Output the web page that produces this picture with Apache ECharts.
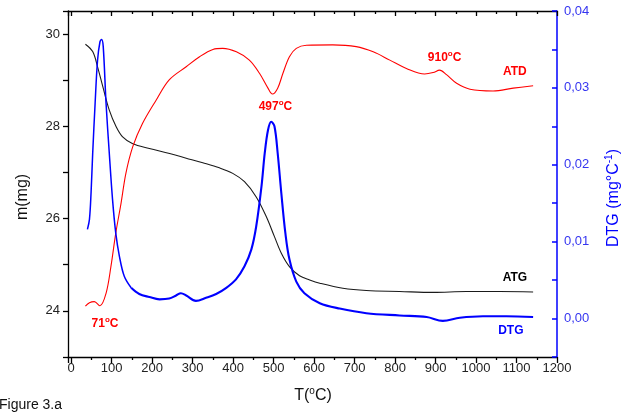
<!DOCTYPE html>
<html>
<head>
<meta charset="utf-8">
<script src="https://cdn.jsdelivr.net/npm/echarts@6/dist/echarts.min.js"></script>
<style>
  html, body { margin: 0; padding: 0; background: #fff; }
  #chart { width: 622px; height: 417px; }
</style>
</head>
<body>
<div id="chart"></div>
<script>
// Thermogravimetric (ATG), derivative (DTG) and differential thermal (ATD) curves
const atgT = [35, 53, 65, 78, 94, 111, 127, 152, 193, 243, 284, 325, 366, 399, 428, 457, 482, 502, 519, 539, 564, 589, 614, 671, 729, 811, 894, 976, 1059, 1141];
const atgMass = [29.78, 29.62, 29.29, 28.86, 28.35, 27.99, 27.77, 27.62, 27.52, 27.41, 27.31, 27.21, 27.10, 26.98, 26.80, 26.47, 26.04, 25.61, 25.25, 24.96, 24.76, 24.67, 24.60, 24.49, 24.44, 24.42, 24.40, 24.42, 24.42, 24.41];

const dtgT = [40, 45, 49, 53, 59, 65, 71, 75, 79, 86, 94, 102, 110, 119, 131, 148, 168, 193, 218, 242, 259, 271, 284, 308, 333, 358, 383, 407, 428, 445, 457, 470, 478, 486, 494, 502, 510, 519, 529, 539, 556, 576, 614, 663, 729, 811, 878, 918, 960, 1017, 1075, 1141];
const dtgRate = [0.0116, 0.0129, 0.0164, 0.0215, 0.0280, 0.0336, 0.0360, 0.0363, 0.0354, 0.0280, 0.0215, 0.0155, 0.0111, 0.0081, 0.0055, 0.0040, 0.0032, 0.0028, 0.0025, 0.0026, 0.0030, 0.0033, 0.0030, 0.0023, 0.0027, 0.0032, 0.0040, 0.0051, 0.0068, 0.0090, 0.0120, 0.0172, 0.0215, 0.0245, 0.0256, 0.0250, 0.0215, 0.0163, 0.0111, 0.0077, 0.0048, 0.0033, 0.0020, 0.0013, 0.0007, 0.0004, 0.0002, -0.0003, 0.0001, 0.0003, 0.0003, 0.0002];

const atdT = [35, 45, 57, 71, 86, 98, 110, 123, 135, 152, 176, 210, 242, 284, 317, 350, 374, 408, 440, 465, 486, 497, 510, 523, 539, 556, 581, 646, 704, 746, 787, 828, 873, 894, 910, 927, 952, 985, 1042, 1092, 1141];
const atdSignal = [14.7, 15.7, 16.0, 14.8, 18.4, 26.1, 35.8, 44.4, 53.1, 60.8, 67.5, 74.3, 80.1, 83.9, 86.8, 88.9, 89.2, 88.2, 85.8, 82.0, 77.7, 76.0, 77.7, 82.0, 86.8, 89.2, 90.1, 90.2, 89.7, 88.2, 85.8, 83.4, 81.8, 82.2, 82.9, 81.6, 79.1, 77.4, 76.9, 77.7, 78.4];

// Peak temperatures marked on the ATD curve
const peakTemps = [71, 497, 910];

// Temperature axis: the frame starts a little below 0 °C
const tempMin = -8;
const tempMax = 1200;

const FONT = '"Liberation Sans", Arial, sans-serif';
const BLUE = '#0000ff';
const RED = '#ff0000';

const pairs = (xs, ys) => xs.map((x, i) => [x, ys[i]]);
const dtgSplit = dtgT.indexOf(148);

const chart = echarts.init(document.getElementById('chart'), null, { renderer: 'canvas' });

const tickLabel = { fontFamily: FONT, fontSize: 13, color: '#222' };
const blackLine = { color: '#000', width: 1.3 };
const hundreds = v => (Math.abs(v % 100) < 1e-9 ? String(v) : '');

chart.setOption({
  animation: false,
  backgroundColor: '#fff',
  grid: { left: 68, right: 65, top: 11, bottom: 60, containLabel: false },
  xAxis: [
    {
      type: 'value', position: 'bottom', min: tempMin, max: tempMax, splitNumber: 12,
      axisLine: { onZero: false, lineStyle: blackLine },
      axisTick: { inside: false, length: 6, lineStyle: blackLine },
      minorTick: { show: true, splitNumber: 2, length: 3, lineStyle: blackLine },
      axisLabel: Object.assign({ margin: 5, formatter: hundreds, showMinLabel: false }, tickLabel),
      splitLine: { show: false }
    },
    {
      type: 'value', position: 'top', min: tempMin, max: tempMax, splitNumber: 12,
      axisLine: { onZero: false, lineStyle: blackLine },
      axisTick: { inside: true, length: 5, lineStyle: blackLine },
      minorTick: { show: true, splitNumber: 2, length: 3, lineStyle: blackLine },
      axisLabel: { show: false },
      splitLine: { show: false }
    }
  ],
  yAxis: [
    {
      type: 'value', position: 'left', min: 23, max: 30.5, interval: 1,
      axisLine: { show: true, onZero: false, lineStyle: blackLine },
      axisTick: { show: true, inside: false, length: 5, lineStyle: blackLine },
      axisLabel: Object.assign({
        margin: 8,
        formatter: v => (Math.abs(v % 2) < 1e-9 ? String(v) : '')
      }, tickLabel),
      splitLine: { show: false }
    },
    {
      type: 'value', position: 'right', min: -0.005, max: 0.04, interval: 0.005,
      axisLine: { show: true, onZero: false, lineStyle: { color: BLUE, width: 1.5 } },
      axisTick: { show: true, inside: true, length: 5, lineStyle: { color: BLUE, width: 1.5 } },
      axisLabel: {
        margin: 7, fontFamily: FONT, fontSize: 13, color: '#3535f0',
        formatter: v => {
          const k = Math.round(v * 1000);
          if (k % 10 !== 0) return '';
          return (k / 1000).toFixed(2).replace('.', ',');
        }
      },
      splitLine: { show: false }
    },
    {
      type: 'value', show: false, position: 'right', min: 0, max: 100,
      axisLine: { onZero: false }
    }
  ],
  series: [
    {
      name: 'ATG', type: 'line', xAxisIndex: 0, yAxisIndex: 0,
      data: pairs(atgT, atgMass), showSymbol: false, smooth: 0.35,
      lineStyle: { color: '#1a1a1a', width: 1.1 }, z: 3
    },
    {
      name: 'ATD', type: 'line', xAxisIndex: 0, yAxisIndex: 2,
      data: pairs(atdT, atdSignal), showSymbol: false, smooth: 0.35,
      lineStyle: { color: RED, width: 1.1 }, z: 3
    },
    {
      name: 'DTG', type: 'line', xAxisIndex: 0, yAxisIndex: 1,
      data: pairs(dtgT, dtgRate).slice(0, dtgSplit + 1), showSymbol: false, smooth: 0.35,
      lineStyle: { color: BLUE, width: 1.5 }, z: 4
    },
    {
      name: 'DTG', type: 'line', xAxisIndex: 0, yAxisIndex: 1,
      data: pairs(dtgT, dtgRate).slice(dtgSplit), showSymbol: false, smooth: 0.35,
      lineStyle: { color: BLUE, width: 2.1 }, z: 4
    }
  ]
});

// Text overlays positioned from data coordinates
const px = (yAxisIndex, x, y) => chart.convertToPixel({ xAxisIndex: 0, yAxisIndex }, [x, y]);
const atdAt = t => atdSignal[atdT.indexOf(t)];

const degRich = color => ({
  b: { fontFamily: FONT, fontSize: 12, fontWeight: 'bold', fill: color, lineHeight: 14, verticalAlign: 'bottom' },
  s: { fontFamily: FONT, fontSize: 8, fontWeight: 'bold', fill: color, lineHeight: 14, verticalAlign: 'top' }
});

function peakLabel(t, dx, dy) {
  const p = px(2, t, atdAt(t));
  return {
    type: 'text', x: p[0] + dx, y: p[1] + dy, z: 10,
    style: {
      text: '{b|' + t + '}{s|o}{b|C}',
      rich: degRich(RED),
      align: 'center', verticalAlign: 'middle'
    }
  };
}

function curveLabel(text, color, yAxisIndex, x, y) {
  const p = px(yAxisIndex, x, y);
  return {
    type: 'text', x: p[0], y: p[1], z: 10,
    style: {
      text, fill: color, fontFamily: FONT, fontSize: 12, fontWeight: 'bold',
      align: 'center', verticalAlign: 'middle'
    }
  };
}

const graphics = [
  peakLabel(peakTemps[0], 5, 17),
  peakLabel(peakTemps[1], 3, 12),
  peakLabel(peakTemps[2], 5, -13),
  curveLabel('ATD', RED, 2, 1096, 82.4),
  curveLabel('ATG', '#000', 0, 1096, 24.73),
  curveLabel('DTG', BLUE, 1, 1086, -0.0016),
  {
    type: 'text', x: 313, y: 395, z: 10,
    style: {
      text: '{n|T(}{s|o}{n|C)}',
      rich: {
        n: { fontFamily: FONT, fontSize: 16, fill: '#111', lineHeight: 18, verticalAlign: 'bottom' },
        s: { fontFamily: FONT, fontSize: 10, fill: '#111', lineHeight: 18, verticalAlign: 'top' }
      },
      align: 'center', verticalAlign: 'middle'
    }
  },
  {
    type: 'text', x: 23, y: 197, rotation: Math.PI / 2, z: 10,
    style: {
      text: 'm(mg)', fill: '#111', fontFamily: FONT, fontSize: 16,
      align: 'center', verticalAlign: 'middle'
    }
  },
  {
    type: 'text', x: 613, y: 198, rotation: Math.PI / 2, z: 10,
    style: {
      text: '{n|DTG (mg°C}{s|-1}{n|)}',
      rich: {
        n: { fontFamily: FONT, fontSize: 16, fill: BLUE, lineHeight: 18, verticalAlign: 'bottom' },
        s: { fontFamily: FONT, fontSize: 10, fill: BLUE, lineHeight: 18, verticalAlign: 'top' }
      },
      align: 'center', verticalAlign: 'middle'
    }
  },
  {
    type: 'text', x: -1, y: 405, z: 10,
    style: {
      text: 'Figure 3.a', fill: '#111', fontFamily: FONT, fontSize: 14,
      align: 'left', verticalAlign: 'middle'
    }
  }
];

chart.setOption({ graphic: graphics });
</script>
</body>
</html>
